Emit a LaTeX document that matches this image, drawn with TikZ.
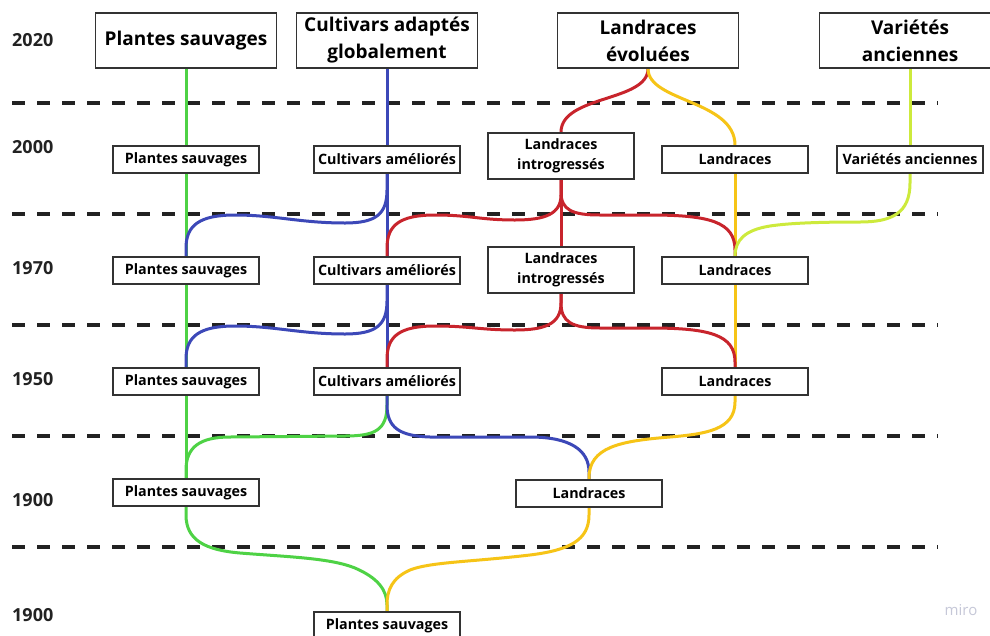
\documentclass[tikz,border=0pt]{standalone}
\usepackage{fontspec}
\setmainfont{Open Sans}
\definecolor{cgreen}{HTML}{4ED245}
\definecolor{cblue}{HTML}{3C48B8}
\definecolor{cred}{HTML}{C8242C}
\definecolor{cyellow}{HTML}{F6C417}
\definecolor{clime}{HTML}{CDEA3C}
\definecolor{cdash}{HTML}{222222}
\definecolor{cbox}{HTML}{333333}
\definecolor{cmiro}{HTML}{C6C8D8}
\pgfdeclarelayer{back}
\pgfdeclarelayer{bg}
\pgfsetlayers{back,bg,main}
\tikzset{
  bigbox/.style={draw=cbox, line width=1.4pt, fill=white, minimum width=181pt, minimum height=55pt, inner sep=0pt, align=center, font=\fontsize{19}{27}\selectfont\bfseries},
  smallbox/.style={draw=cbox, line width=1.4pt, fill=white, minimum width=146pt, minimum height=27pt, inner sep=0pt, align=center, font=\fontsize{14.3}{19.5}\selectfont\bfseries},
  twobox/.style={smallbox, minimum height=46pt},
  year/.style={anchor=west, inner sep=0pt, font=\fontsize{18}{20}\selectfont\bfseries, text=cdash},
  sep/.style={draw=cdash, line width=4pt, dash pattern=on 13pt off 12pt},
  gl/.style={draw=cgreen, line width=3pt},
  bl/.style={draw=cblue, line width=3pt},
  rl/.style={draw=cred, line width=3pt},
  yl/.style={draw=cyellow, line width=3pt},
  ll/.style={draw=clime, line width=3pt},
}
\begin{document}
\begin{tikzpicture}[x=1pt,y=-1pt]
\useasboundingbox (0,0) rectangle (990,635);
\clip (0,0) rectangle (990,635);
\begin{pgfonlayer}{back}
\fill[white] (0,0) rectangle (990,635);
\end{pgfonlayer}

% years
\node[year] (y2020) at (12,40) {2020};
\node[year] (y2000) at (12,147) {2000};
\node[year] (y1970) at (12,268) {1970};
\node[year] (y1950) at (12,379) {1950};
\node[year] (y1900a) at (12,500) {1900};
\node[year] (y1900b) at (12,615) {1900};

% top row
\node[bigbox] (ps0) at (186,40.5) {Plantes sauvages};
\node[bigbox] (ca0) at (387,40.5) {Cultivars adaptés\\globalement};
\node[bigbox] (le0) at (648,40.5) {Landraces\\évoluées};
\node[bigbox] (va0) at (910,40.5) {Variétés\\anciennes};

% 2000
\node[smallbox] (ps1) at (186,159.5) {Plantes sauvages};
\node[smallbox] (ca1) at (387,159.5) {Cultivars améliorés};
\node[twobox] (li1) at (561,156) {Landraces\\introgressés};
\node[smallbox] (la1) at (735,159.5) {Landraces};
\node[smallbox] (va1) at (910,159.5) {Variétés anciennes};

% 1970
\node[smallbox] (ps2) at (186,270.5) {Plantes sauvages};
\node[smallbox] (ca2) at (387,270.5) {Cultivars améliorés};
\node[twobox] (li2) at (561,270) {Landraces\\introgressés};
\node[smallbox] (la2) at (735,270.5) {Landraces};

% 1950
\node[smallbox] (ps3) at (186,381.5) {Plantes sauvages};
\node[smallbox] (ca3) at (387,381.5) {Cultivars améliorés};
\node[smallbox] (la3) at (735,381.5) {Landraces};

% 1900
\node[smallbox] (ps4) at (186,492.5) {Plantes sauvages};
\node[smallbox] (la4) at (589,493.5) {Landraces};

% bottom
\node[smallbox] (ps5) at (387,625.5) {Plantes sauvages};

\node[inner sep=0pt, text=cmiro, font=\fontsize{15}{17}\selectfont] (miro) at (961,610) {miro};

\begin{pgfonlayer}{bg}
% dashed separators
\coordinate (d1a) at (12,103); \coordinate (d1b) at (938,103);
\coordinate (d2a) at (12,214); \coordinate (d2b) at (938,214);
\coordinate (d3a) at (12,325); \coordinate (d3b) at (938,325);
\coordinate (d4a) at (12,436); \coordinate (d4b) at (938,436);
\coordinate (d5a) at (12,547); \coordinate (d5b) at (938,547);
\draw[sep] (d1a) -- (d1b);
\draw[sep] (d2a) -- (d2b);
\draw[sep] (d3a) -- (d3b);
\draw[sep] (d4a) -- (d4b);
\draw[sep] (d5a) -- (d5b);

% green straight
\draw[gl] (ps0.south) -- (ps1.north);
\draw[gl] (ps1.south) -- (ps2.north);
\draw[gl] (ps2.south) -- (ps3.north);
\draw[gl] (ps3.south) -- (ps4.north);
% blue straight
\draw[bl] (ca0.south) -- (ca1.north);
\draw[bl] (ca1.south) -- (ca2.north);
\draw[bl] (ca2.south) -- (ca3.north);
% red straight
\draw[rl] (li1.south) -- (li2.north);
% yellow straight
\draw[yl] (la1.south) -- (la2.north);
\draw[yl] (la2.south) -- (la3.north);
% lime straight
\draw[ll] (va0.south) -- (va1.north);

% top branches
\draw[rl] (le0.south) .. controls (648,102) and (561,95) .. (li1.north);
\draw[yl] (le0.south) .. controls (648,102) and (735,100) .. (la1.north);

% blue branches
\draw[bl] (ca1.south) -- (387,190) .. controls (387,214) and (376,223) .. (345,223)
  .. controls (300,223) and (275,215) .. (235,215) .. controls (200,215) and (186,225) .. (186,248) -- (ps2.north);
\draw[bl] (ca2.south) -- (387,301) .. controls (387,325) and (376,334) .. (345,334)
  .. controls (300,334) and (275,326) .. (235,326) .. controls (200,326) and (186,336) .. (186,359) -- (ps3.north);

% red branches 2000 -> 1970
\draw[rl] (li1.south) -- (561,195) .. controls (561,214) and (545,220) .. (515,220)
  .. controls (480,220) and (470,215) .. (435,215) .. controls (400,215) and (387,225) .. (387,248) -- (ca2.north);
\draw[rl] (li1.south) -- (561,192) .. controls (561,210) and (572,215) .. (600,215) -- (650,215)
  .. controls (710,215) and (735,222) .. (735,250) -- (la2.north);
% red branches 1970 -> 1950
\draw[rl] (li2.south) -- (561,303) .. controls (561,324) and (545,330) .. (515,330)
  .. controls (480,330) and (470,326) .. (435,326) .. controls (400,326) and (387,336) .. (387,359) -- (ca3.north);
\draw[rl] (li2.south) -- (561,303) .. controls (561,322) and (572,328) .. (600,328) -- (650,328)
  .. controls (710,328) and (735,335) .. (735,362) -- (la3.north);

% lime branch
\draw[ll] (va1.south) -- (910,183) .. controls (910,213) and (892,222) .. (860,222)
  .. controls (820,222) and (790,223) .. (770,226) .. controls (745,230) and (735,240) .. (la2.north);

% 1950 -> 1900
\draw[gl] (ca3.south) -- (387,405) .. controls (387,430) and (375,436) .. (345,436) -- (230,437)
  .. controls (200,437) and (186,447) .. (186,470) -- (ps4.north);
\draw[bl] (ca3.south) -- (387,405) .. controls (387,428) and (400,436) .. (430,437) -- (530,437)
  .. controls (570,437) and (589,450) .. (589,472) -- (la4.north);
\draw[yl] (la3.south) -- (735,402) .. controls (735,430) and (705,434) .. (670,437)
  .. controls (620,441) and (589,447) .. (589,478) -- (la4.north);

% 1900 -> bottom
\draw[gl] (ps4.south) -- (186,515) .. controls (186,540) and (205,550) .. (240,553)
  .. controls (290,557) and (330,558) .. (355,568) .. controls (378,578) and (387,590) .. (387,605) -- (ps5.north);
\draw[yl] (la4.south) -- (589,515) .. controls (589,540) and (570,550) .. (530,555)
  .. controls (470,562) and (430,562) .. (410,570) .. controls (392,578) and (387,590) .. (387,605) -- (ps5.north);
\end{pgfonlayer}
\end{tikzpicture}
\end{document}
